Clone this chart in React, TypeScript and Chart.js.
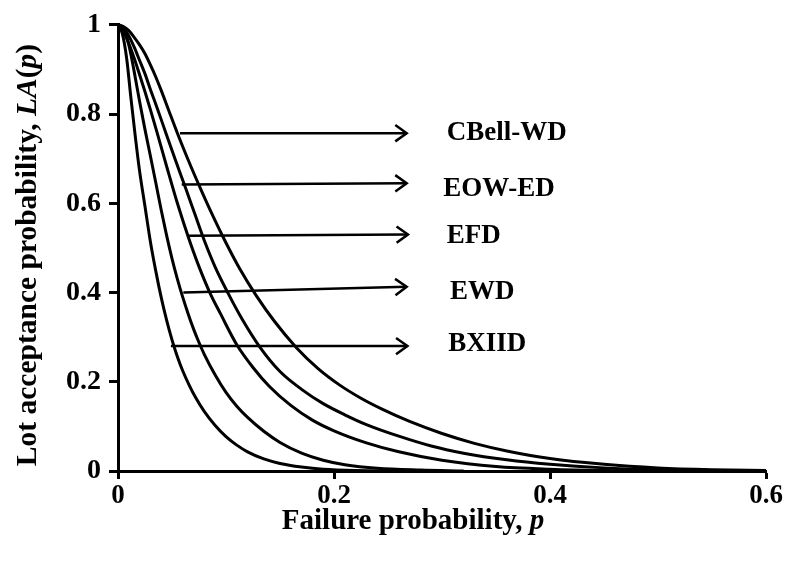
import React, { useEffect, useRef } from "react";
import { Chart, registerables } from "chart.js";

Chart.register(...registerables);

// ---- Data ----
const pBXIID = [0, 0.004, 0.008, 0.012, 0.016, 0.02, 0.025, 0.03, 0.035, 0.04, 0.045, 0.05, 0.055, 0.06, 0.066, 0.072, 0.08, 0.09, 0.1, 0.11, 0.12, 0.135, 0.15, 0.17, 0.19, 0.22, 0.26];
const laBXIID = [1, 0.98, 0.925, 0.835, 0.75, 0.672, 0.593, 0.514, 0.448, 0.389, 0.338, 0.294, 0.256, 0.224, 0.192, 0.164, 0.133, 0.102, 0.077, 0.058, 0.043, 0.027, 0.017, 0.009, 0.004, 0.001, 0];

const pEWD = [0, 0.005, 0.01, 0.015, 0.02, 0.025, 0.03, 0.035, 0.04, 0.045, 0.05, 0.055, 0.06, 0.065, 0.07, 0.075, 0.08, 0.09, 0.1, 0.11, 0.12, 0.135, 0.15, 0.17, 0.19, 0.21, 0.24, 0.28, 0.32];
const laEWD = [1, 0.99, 0.955, 0.895, 0.828, 0.765, 0.706, 0.646, 0.585, 0.528, 0.476, 0.43, 0.389, 0.352, 0.318, 0.288, 0.261, 0.215, 0.176, 0.145, 0.12, 0.089, 0.064, 0.04, 0.024, 0.014, 0.006, 0.002, 0];

const pEFD = [0, 0.005, 0.01, 0.015, 0.02, 0.025, 0.03, 0.036, 0.045, 0.055, 0.065, 0.075, 0.085, 0.095, 0.11, 0.125, 0.14, 0.16, 0.18, 0.2, 0.23, 0.26, 0.3, 0.35, 0.4, 0.45, 0.5];
const laEFD = [1, 0.985, 0.958, 0.925, 0.888, 0.85, 0.81, 0.76, 0.683, 0.6, 0.525, 0.458, 0.4, 0.352, 0.283, 0.232, 0.19, 0.147, 0.114, 0.09, 0.063, 0.043, 0.024, 0.01, 0.004, 0.001, 0];

const pEOWED = [0, 0.005, 0.01, 0.015, 0.02, 0.025, 0.03, 0.035, 0.044, 0.053, 0.062, 0.071, 0.08, 0.09, 0.102, 0.115, 0.131, 0.15, 0.17, 0.19, 0.21, 0.23, 0.26, 0.29, 0.32, 0.36, 0.4, 0.45, 0.5, 0.55, 0.6];
const laEOWED = [1, 0.993, 0.975, 0.95, 0.92, 0.89, 0.855, 0.822, 0.76, 0.698, 0.638, 0.577, 0.516, 0.457, 0.398, 0.34, 0.279, 0.223, 0.183, 0.151, 0.126, 0.104, 0.078, 0.056, 0.04, 0.025, 0.015, 0.007, 0.003, 0.001, 0];

const pCBellWD = [0, 0.005, 0.01, 0.015, 0.02, 0.025, 0.03, 0.035, 0.04, 0.047, 0.055, 0.065, 0.076, 0.087, 0.099, 0.113, 0.128, 0.145, 0.165, 0.185, 0.205, 0.225, 0.245, 0.27, 0.3, 0.33, 0.36, 0.4, 0.45, 0.5, 0.55, 0.6];
const laCBellWD = [1, 0.996, 0.987, 0.972, 0.955, 0.935, 0.91, 0.883, 0.853, 0.808, 0.757, 0.697, 0.635, 0.576, 0.516, 0.452, 0.393, 0.335, 0.277, 0.23, 0.193, 0.163, 0.138, 0.111, 0.084, 0.062, 0.045, 0.028, 0.015, 0.007, 0.003, 0.001];

// Annotation arrows and labels
const arrowLabels = ["CBell-WD", "EOW-ED", "EFD", "EWD", "BXIID"];
const arrowStartP = [0.0574, 0.059, 0.0651, 0.0605, 0.049];
const arrowStartLA = [0.757, 0.642, 0.527, 0.4, 0.28];
const arrowEndP = [0.2673, 0.2673, 0.2685, 0.2673, 0.268];
const arrowEndLA = [0.757, 0.645, 0.53, 0.413, 0.28];
const labelP = [0.3043, 0.3012, 0.3043, 0.3074, 0.3058];
const labelLA = [0.757, 0.632, 0.527, 0.4, 0.284];

const xTicks = [0, 0.2, 0.4, 0.6];
const yTicks = [0, 0.2, 0.4, 0.6, 0.8, 1];

const xTitle = [
  { t: "Failure probability, ", i: false },
  { t: "p", i: true },
];
const yTitle = [
  { t: "Lot acceptance probability, ", i: false },
  { t: "LA", i: true },
  { t: "(", i: false },
  { t: "p", i: true },
  { t: ")", i: false },
];

const FAMILY = "'Liberation Serif', 'Times New Roman', serif";

function mk(label: string, xs: number[], ys: number[]) {
  return {
    label,
    data: xs.map((x, k) => ({ x, y: ys[k] })),
    showLine: true,
    borderColor: "#000",
    borderWidth: 3,
    pointRadius: 0,
    cubicInterpolationMode: "monotone" as const,
    clip: false as const,
  };
}

function drawRich(ctx: CanvasRenderingContext2D, parts: { t: string; i: boolean }[], size: number) {
  const fonts = parts.map((p) => `${p.i ? "italic " : ""}bold ${size}px ${FAMILY}`);
  let total = 0;
  const widths = parts.map((p, k) => {
    ctx.font = fonts[k];
    const w = ctx.measureText(p.t).width;
    total += w;
    return w;
  });
  let x = -total / 2;
  parts.forEach((p, k) => {
    ctx.font = fonts[k];
    ctx.fillText(p.t, x, 0);
    x += widths[k];
  });
}

const annotPlugin = {
  id: "annot",
  afterDraw(chart: any) {
    const ctx: CanvasRenderingContext2D = chart.ctx;
    const xs = chart.scales.x;
    const ys = chart.scales.y;
    ctx.save();
    ctx.strokeStyle = "#000";
    ctx.fillStyle = "#000";
    ctx.lineWidth = 2.5;
    ctx.lineCap = "butt";
    for (let k = 0; k < arrowLabels.length; k++) {
      const x0 = xs.getPixelForValue(arrowStartP[k]);
      const y0 = ys.getPixelForValue(arrowStartLA[k]);
      const x1 = xs.getPixelForValue(arrowEndP[k]);
      const y1 = ys.getPixelForValue(arrowEndLA[k]);
      ctx.beginPath();
      ctx.moveTo(x0, y0);
      ctx.lineTo(x1, y1);
      ctx.stroke();
      const ang = Math.atan2(y1 - y0, x1 - x0);
      const L = 14;
      const a = 0.62;
      ctx.beginPath();
      ctx.moveTo(x1 - L * Math.cos(ang - a), y1 - L * Math.sin(ang - a));
      ctx.lineTo(x1, y1);
      ctx.lineTo(x1 - L * Math.cos(ang + a), y1 - L * Math.sin(ang + a));
      ctx.stroke();

      ctx.font = `bold 27px ${FAMILY}`;
      ctx.textBaseline = "middle";
      ctx.textAlign = "left";
      ctx.fillText(arrowLabels[k], xs.getPixelForValue(labelP[k]), ys.getPixelForValue(labelLA[k]));
    }
    // axis titles
    ctx.textAlign = "left";
    ctx.textBaseline = "middle";
    ctx.save();
    ctx.translate(413, 522);
    drawRich(ctx, xTitle, 29);
    ctx.restore();
    ctx.save();
    ctx.translate(28, 255);
    ctx.rotate(-Math.PI / 2);
    drawRich(ctx, yTitle, 29.5);
    ctx.restore();
    ctx.restore();
  },
};

const fmt = (v: any) => String(Math.round(Number(v) * 10) / 10);

export default function App() {
  const ref = useRef<HTMLCanvasElement>(null);
  useEffect(() => {
    if (!ref.current) return;
    const chart = new Chart(ref.current, {
      type: "scatter",
      data: {
        datasets: [
          mk("BXIID", pBXIID, laBXIID),
          mk("EWD", pEWD, laEWD),
          mk("EFD", pEFD, laEFD),
          mk("EOW-ED", pEOWED, laEOWED),
          mk("CBell-WD", pCBellWD, laCBellWD),
        ],
      },
      options: {
        animation: false,
        responsive: false,
        layout: { padding: { top: 23, right: 21, left: 0, bottom: 0 } },
        plugins: { legend: { display: false }, tooltip: { enabled: false } },
        scales: {
          x: {
            type: "linear",
            min: 0,
            max: 0.6,
            afterBuildTicks: (s: any) => {
              s.ticks = xTicks.map((v) => ({ value: v }));
            },
            afterFit: (s: any) => {
              s.height = 91;
            },
            ticks: {
              callback: fmt,
              color: "#000",
              font: { family: FAMILY, size: 27, weight: "bold" },
              padding: 1,
              maxRotation: 0,
            },
            grid: { drawOnChartArea: false, drawTicks: true, tickLength: 8, tickColor: "#000", tickWidth: 3 },
            border: { display: true, color: "#000", width: 3 },
          },
          y: {
            type: "linear",
            min: 0,
            max: 1,
            afterBuildTicks: (s: any) => {
              s.ticks = yTicks.map((v) => ({ value: v }));
            },
            afterFit: (s: any) => {
              s.width = 118;
            },
            ticks: {
              callback: fmt,
              color: "#000",
              font: { family: FAMILY, size: 28, weight: "bold" },
              padding: 8,
            },
            grid: { drawOnChartArea: false, drawTicks: true, tickLength: 9, tickColor: "#000", tickWidth: 3 },
            border: { display: true, color: "#000", width: 3 },
          },
        },
      } as any,
      plugins: [annotPlugin],
    });
    return () => chart.destroy();
  }, []);
  return (
    <div style={{ position: "fixed", left: 0, top: 0, width: 787, height: 562, background: "#fff" }}>
      <canvas ref={ref} width={787} height={562} style={{ display: "block" }} />
    </div>
  );
}
